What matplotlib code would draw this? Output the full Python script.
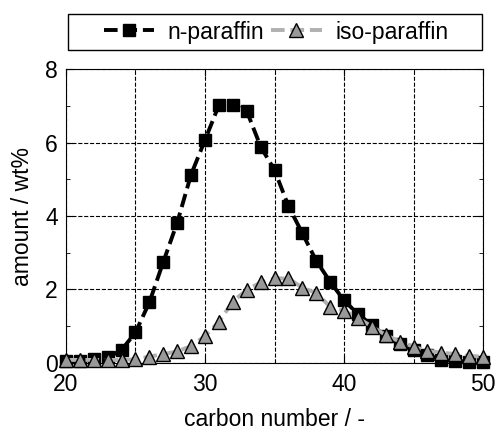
import matplotlib.pyplot as plt
from matplotlib.patches import Rectangle
from matplotlib.ticker import MultipleLocator

plt.rcParams['font.family'] = ['Liberation Sans', 'DejaVu Sans']
plt.rcParams['font.size'] = 16.5

# carbon number
carbon = list(range(20, 51))

# amount / wt%
n_paraffin = [0.05, 0.05, 0.1, 0.15, 0.35, 0.83, 1.65, 2.75, 3.82, 5.13, 6.07,
              7.02, 7.02, 6.86, 5.89, 5.25, 4.27, 3.53, 2.78, 2.21, 1.70,
              1.33, 1.03, 0.72, 0.51, 0.35, 0.22, 0.08, 0.05, 0.03, 0.02]
iso_paraffin = [0.08, 0.08, 0.08, 0.08, 0.08, 0.1, 0.17, 0.24, 0.31, 0.46, 0.73,
                1.12, 1.67, 1.99, 2.19, 2.30, 2.30, 2.05, 1.90, 1.53, 1.42,
                1.22, 0.99, 0.76, 0.58, 0.44, 0.33, 0.28, 0.24, 0.19, 0.17]

fig = plt.figure(figsize=(4.96, 4.32), dpi=100)
ax = fig.add_axes([0.133, 0.16, 0.841, 0.68])

ax.plot(carbon, n_paraffin, linestyle=(0, (3.5, 1.5)), color='black', linewidth=2.8,
        marker='s', markersize=9, markerfacecolor='black', markeredgecolor='black',
        label='n-paraffin', clip_on=False, zorder=3)
ax.plot(carbon, iso_paraffin, linestyle=(0, (3.5, 1.5)), color='#b0b0b0', linewidth=2.8,
        marker='^', markersize=10, markerfacecolor='#999999', markeredgecolor='black',
        markeredgewidth=1, label='iso-paraffin', clip_on=False, zorder=4)

ax.set_xlim(20, 50)
ax.set_ylim(0, 8)
ax.xaxis.set_major_locator(MultipleLocator(10))
ax.xaxis.set_minor_locator(MultipleLocator(5))
ax.yaxis.set_major_locator(MultipleLocator(2))
ax.yaxis.set_minor_locator(MultipleLocator(1))
ax.tick_params(which='both', direction='in', top=True, right=True, labeltop=False, labelright=False)
ax.tick_params(which='major', length=5)
ax.tick_params(which='minor', length=3)
ax.tick_params(axis='x', pad=7)
ax.tick_params(axis='y', pad=6)
ax.grid(True, axis='x', which='both', linestyle='--', color='black', linewidth=0.8)
ax.grid(True, axis='y', which='major', linestyle='--', color='black', linewidth=0.8)

ax.set_xlabel('carbon number / -', labelpad=9)
ax.set_ylabel('amount / wt%', labelpad=8)

leg = ax.legend(loc='center', bbox_to_anchor=(276 / 496, (432 - 32) / 432), bbox_transform=fig.transFigure,
                ncol=2, frameon=False, handlelength=2.2, columnspacing=0.3,
                handletextpad=0.6, borderpad=0.3, fontsize=16.5)
# box around the legend
fig.patches.append(Rectangle((68 / 496, (432 - 50) / 432), 414 / 496, 36 / 432,
                             transform=fig.transFigure, fill=False,
                             edgecolor='black', linewidth=1))

plt.savefig('out.png', dpi=100)
